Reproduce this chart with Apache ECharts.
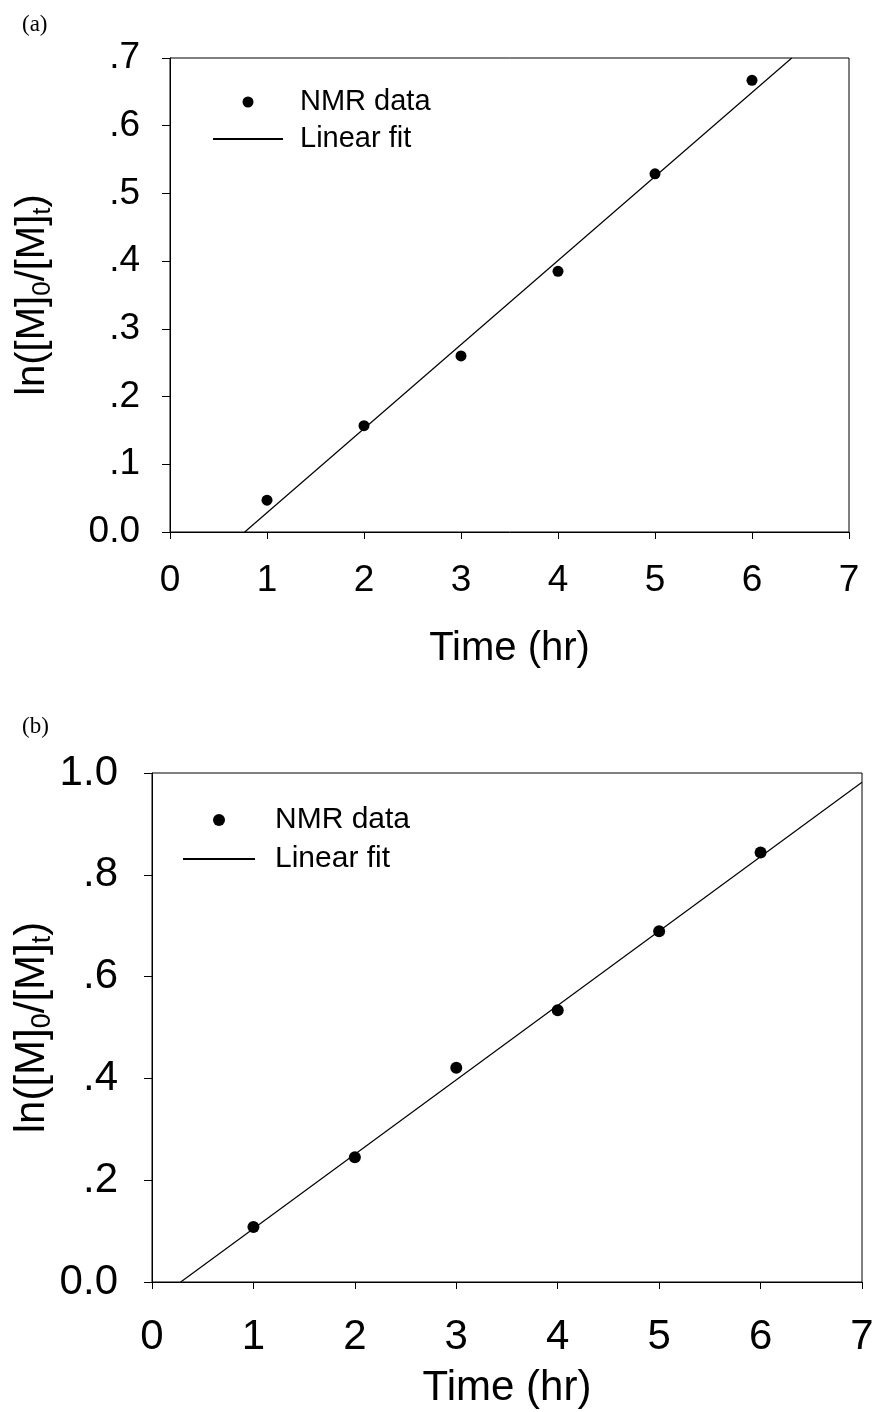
<!DOCTYPE html>
<html><head><meta charset="utf-8">
<script src="https://cdn.jsdelivr.net/npm/echarts@6/dist/echarts.min.js"></script>
<style>html,body{margin:0;padding:0;background:#fff}#c{width:878px;height:1412px}</style>
</head><body><div id="c"></div>
<script>
// Panel (a)
const timeA = [1, 2, 3, 4, 5, 6];
const lnA = [0.047, 0.157, 0.260, 0.385, 0.529, 0.667];
const fitXA = [0.77, 6.41];
const fitYA = [0.0, 0.7];
// Panel (b)
const timeB = [1, 2, 3, 4, 5, 6];
const lnB = [0.108, 0.245, 0.421, 0.534, 0.689, 0.844];
const fitXB = [0.283, 7.0];
const fitYB = [0.0, 0.982];
const xTicks = ['0','1','2','3','4','5','6','7'];

const FONT = '"Liberation Sans", Arial, sans-serif';
const pairs = (xs, ys) => xs.map((x, i) => [x, ys[i]]);
const yFmt = v => (Math.abs(v) < 1e-9 ? '0.0' : (Math.abs(v - 1) < 1e-9 ? '1.0' : ('.' + Math.round(v * 10))));

function yName(fs, sub) {
  return {
    name: '{a|ln([M]}{s|0}{a|/[M]}{s|t}{a|)}',
    rich: {
      a: { fontSize: fs, fontFamily: FONT, color: '#000', lineHeight: fs + 4 },
      s: { fontSize: sub, fontFamily: FONT, color: '#000', lineHeight: sub, padding: [Math.round(fs * 0.5), 0, 0, 0] }
    }
  };
}

function xAxis(gi, fs, titleFs, nameGap, margin) {
  return {
    gridIndex: gi, type: 'value', min: 0, max: 7, interval: 1,
    name: 'Time (hr)', nameLocation: 'middle', nameGap: nameGap, nameMoveOverlap: false,
    nameTextStyle: { fontSize: titleFs, fontFamily: FONT, color: '#000' },
    axisLine: { show: true, onZero: false, lineStyle: { color: '#000', width: 1 } },
    axisTick: { show: true, inside: false, length: 7, lineStyle: { color: '#000', width: 1 } },
    axisLabel: { fontSize: fs, fontFamily: FONT, color: '#000', margin: margin, formatter: v => xTicks[Math.round(v)] },
    splitLine: { show: false }
  };
}
function yAxis(gi, max, interval, fs, nm, nameGap, margin) {
  return {
    gridIndex: gi, type: 'value', min: 0, max: max, interval: interval,
    name: nm.name, nameLocation: 'middle', nameGap: nameGap, nameRotate: 90, nameMoveOverlap: false,
    nameTextStyle: { rich: nm.rich, fontSize: 40, fontFamily: FONT, color: '#000' },
    axisLine: { show: true, onZero: false, lineStyle: { color: '#000', width: 1 } },
    axisTick: { show: true, inside: false, length: 8, lineStyle: { color: '#000', width: 1 } },
    axisLabel: { fontSize: fs, fontFamily: FONT, color: '#000', margin: margin, formatter: yFmt },
    splitLine: { show: false }
  };
}

const chart = echarts.init(document.getElementById('c'), null, { renderer: 'canvas' });
chart.setOption({
  animation: false,
  backgroundColor: '#fff',
  grid: [
    { left: 170, top: 58, width: 679, height: 474, show: true, borderColor: '#000', borderWidth: 1, backgroundColor: 'transparent', containLabel: false, outerBoundsMode: 'none' },
    { left: 152, top: 773, width: 710, height: 509, show: true, borderColor: '#000', borderWidth: 1, backgroundColor: 'transparent', containLabel: false, outerBoundsMode: 'none' }
  ],
  xAxis: [ xAxis(0, 37, 40, 97, 30), xAxis(1, 42, 42, 85, 34) ],
  yAxis: [ yAxis(0, 0.7, 0.1, 37, yName(40, 26), 115, 30), yAxis(1, 1.0, 0.2, 42, yName(42, 27), 97, 34) ],
  legend: [
    { left: 212, top: 87, orient: 'vertical', padding: 0, itemGap: 7, itemWidth: 70, itemHeight: 11,
      data: ['NMR data', { name: 'Linear fit', itemStyle: { color: 'rgba(0,0,0,0)', borderWidth: 0 } }], selectedMode: false,
      textStyle: { fontSize: 29, fontFamily: FONT, color: '#000', lineHeight: 30, padding: [0, 0, 0, 12] } },
    { left: 182, top: 805, orient: 'vertical', padding: 0, itemGap: 9, itemWidth: 72, itemHeight: 12,
      data: ['NMR data', { name: 'Linear fit', itemStyle: { color: 'rgba(0,0,0,0)', borderWidth: 0 } }], selectedMode: false,
      textStyle: { fontSize: 30, fontFamily: FONT, color: '#000', lineHeight: 30, padding: [0, 0, 0, 15] } }
  ],
  graphic: [
    { type: 'text', left: 22, top: 13, style: { text: '(a)', fontSize: 23, fontFamily: '"Liberation Serif", "Times New Roman", serif', fill: '#000' } },
    { type: 'text', left: 22, top: 715, style: { text: '(b)', fontSize: 23, fontFamily: '"Liberation Serif", "Times New Roman", serif', fill: '#000' } }
  ],
  series: [
    { name: 'Linear fit', type: 'line', xAxisIndex: 0, yAxisIndex: 0, data: pairs(fitXA, fitYA),
      symbol: 'none', showSymbol: false, lineStyle: { color: '#000', width: 1.2 }, itemStyle: { color: '#000' }, clip: true },
    { name: 'NMR data', type: 'scatter', xAxisIndex: 0, yAxisIndex: 0, data: pairs(timeA, lnA),
      symbol: 'circle', symbolSize: 11, itemStyle: { color: '#000', opacity: 1 } },
    { name: 'Linear fit', type: 'line', xAxisIndex: 1, yAxisIndex: 1, data: pairs(fitXB, fitYB),
      symbol: 'none', showSymbol: false, lineStyle: { color: '#000', width: 1.2 }, itemStyle: { color: '#000' }, clip: true },
    { name: 'NMR data', type: 'scatter', xAxisIndex: 1, yAxisIndex: 1, data: pairs(timeB, lnB),
      symbol: 'circle', symbolSize: 12, itemStyle: { color: '#000', opacity: 1 } }
  ]
});
</script></body></html>
